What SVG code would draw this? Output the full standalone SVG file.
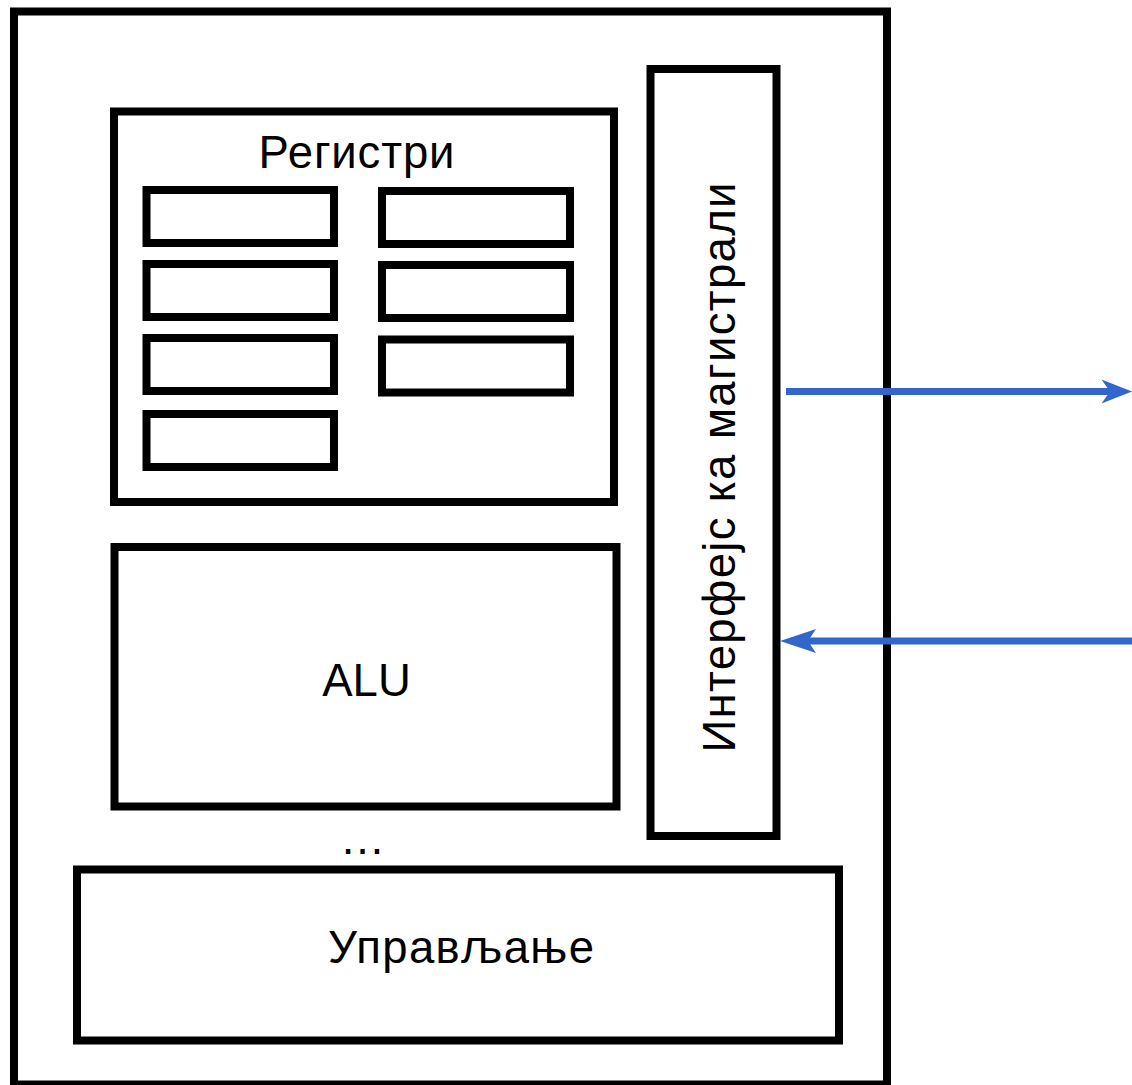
<svg xmlns="http://www.w3.org/2000/svg" width="1132" height="1085" viewBox="0 0 1132 1085">
<style>
.box{fill:#ffffff;stroke:#000000;stroke-width:8}
.reg{fill:#ffffff;stroke:#000000;stroke-width:8}
.lbl{font-family:"Liberation Sans",Arial,sans-serif;font-size:45.5px;fill:#000000}
.conn{stroke:#3366CC;stroke-width:7;fill:none}
.head{fill:#3366CC;stroke:none}
</style>
<rect width="1132" height="1085" fill="#ffffff"/>
<g id="cpu">
<rect class="box" x="14" y="11.5" width="873" height="1073"/>
</g>
<g id="registri">
<rect class="box" x="114" y="111.5" width="500" height="390.5"/>
<text class="lbl" x="356.5" y="168" text-anchor="middle" textLength="196" lengthAdjust="spacing">Регистри</text>
</g>
<g id="reg1"><rect class="reg" x="146.5" y="190" width="187.5" height="53"/></g>
<g id="reg2"><rect class="reg" x="146.5" y="264" width="187.5" height="53"/></g>
<g id="reg3"><rect class="reg" x="146.5" y="338" width="187.5" height="53"/></g>
<g id="reg4"><rect class="reg" x="146.5" y="414" width="187.5" height="53"/></g>
<g id="reg5"><rect class="reg" x="382" y="191" width="188" height="53"/></g>
<g id="reg6"><rect class="reg" x="382" y="265" width="188" height="53"/></g>
<g id="reg7"><rect class="reg" x="382" y="339.5" width="188" height="53"/></g>
<g id="alu">
<rect class="box" x="114.5" y="547" width="502" height="259.5"/>
<text class="lbl" x="366.5" y="696" text-anchor="middle">ALU</text>
</g>
<g id="dots">
<text class="lbl" x="362.5" y="854" text-anchor="middle">…</text>
</g>
<g id="interfejs">
<rect class="box" x="650.5" y="69" width="126" height="767"/>
<text class="lbl" transform="translate(735,467.5) rotate(-90)" x="0" y="0" text-anchor="middle" textLength="570" lengthAdjust="spacing">Интерфејс ка магистрали</text>
</g>
<g id="upravljanje">
<rect class="box" x="77" y="869.5" width="762" height="171"/>
<text class="lbl" x="461" y="963" text-anchor="middle" textLength="266" lengthAdjust="spacing">Управљање</text>
</g>
<g id="connectors">
<line class="conn" x1="786" y1="391.5" x2="1112" y2="391.5"/>
<path class="head" d="M1132,391.5 L1101.5,379.5 L1110,391.5 L1101.5,403.5 Z"/>
<line class="conn" x1="1132" y1="641" x2="800" y2="641"/>
<path class="head" d="M780,641 L816,629 L808,641 L816,653 Z"/>
</g>
</svg>
